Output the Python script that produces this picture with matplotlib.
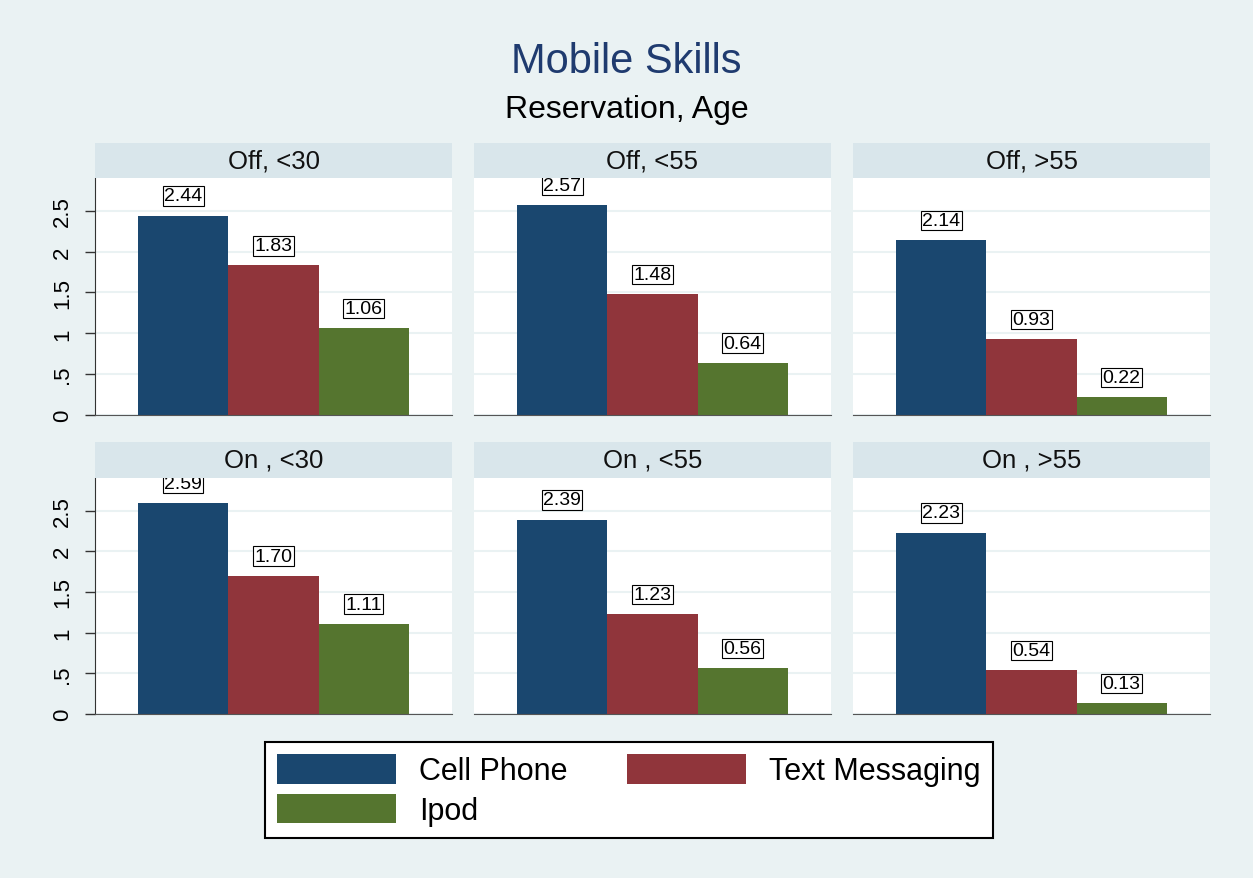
import matplotlib.pyplot as plt
from matplotlib.patches import Patch

plt.rcParams['font.family'] = ['Liberation Sans', 'DejaVu Sans']

panels = ["Off, <30", "Off, <55", "Off, >55", "On , <30", "On , <55", "On , >55"]
cell_phone = [2.44, 2.57, 2.14, 2.59, 2.39, 2.23]
text_msg = [1.83, 1.48, 0.93, 1.70, 1.23, 0.54]
ipod = [1.06, 0.64, 0.22, 1.11, 0.56, 0.13]
series_names = ["Cell Phone", "Text Messaging", "Ipod"]
colors = ["#1A476F", "#90353B", "#55752F"]
yticks = [0, 0.5, 1, 1.5, 2, 2.5]
ytick_labels = ["0", ".5", "1", "1.5", "2", "2.5"]

W, H = 1253, 879
bg = "#EAF2F3"
fig = plt.figure(figsize=(W / 100, H / 100), dpi=100, facecolor=bg)

col_left = [95, 474, 853]
pw = 357
rows = [(179, 416, 144), (479, 715, 443)]  # axes top, axes bottom, strip top

for i, name in enumerate(panels):
    r, c = divmod(i, 3)
    top, bot, stop = rows[r]
    x0 = col_left[c]
    ax = fig.add_axes([x0 / W, 1 - bot / H, pw / W, (bot - top) / H])
    sax = fig.add_axes([x0 / W, 1 - top / H, pw / W, (top - stop) / H])
    sax.set_facecolor("#D9E6EB")
    sax.set_xticks([]); sax.set_yticks([])
    for s in sax.spines.values():
        s.set_visible(False)
    sax.text(0.5, 0.5, name, ha="center", va="center", fontsize=18.5, color="#111111")

    vals = [cell_phone[i], text_msg[i], ipod[i]]
    ax.bar([0, 1, 2], vals, width=1.0, color=colors, zorder=2)
    for xv, v in zip([0, 1, 2], vals):
        ax.annotate(f"{v:.2f}", (xv, v), xytext=(0, 8), textcoords="offset points",
                    ha="center", va="bottom", fontsize=14, clip_on=True, zorder=3,
                    bbox=dict(boxstyle="square,pad=0.06", fc="white", ec="black", lw=0.8))
    ax.set_xlim(-0.98, 2.98)
    ax.set_ylim(0, 2.9)
    ax.set_yticks(yticks)
    ax.yaxis.grid(True, color=bg, lw=1.5, zorder=1)
    ax.set_xticks([])
    ax.spines["top"].set_visible(False)
    ax.spines["right"].set_visible(False)
    ax.spines["bottom"].set_color("#555555")
    if c == 0:
        ax.spines["left"].set_color("#333333")
        ax.set_yticklabels(ytick_labels, rotation=90, va="center", fontsize=16)
        ax.tick_params(axis="y", length=7, width=1, color="#333333", pad=9)
    else:
        ax.spines["left"].set_visible(False)
        ax.tick_params(axis="y", length=0, labelleft=False)

fig.text(0.5, 1 - 62 / H, "Mobile Skills", ha="center", va="center", fontsize=30, color="#1F3B6F")
fig.text(0.5, 1 - 110 / H, "Reservation, Age", ha="center", va="center", fontsize=23, color="black")

# legend fills row by row: Cell Phone, Text Messaging / Ipod
order = [0, 2, 1]
handles = [Patch(facecolor=colors[k], edgecolor="none") for k in order]
labels = [series_names[k] for k in order]
leg = fig.legend(handles, labels, loc="upper left", mode="expand",
                 bbox_to_anchor=(265 / W, 1 - 840 / H, 728 / W, 97 / H),
                 ncol=2, fontsize=22, frameon=True, fancybox=False, edgecolor="black",
                 facecolor="white", framealpha=1,
                 handlelength=3.9, handleheight=1.1, handletextpad=0.75, columnspacing=2.0,
                 labelspacing=0.25, borderpad=0.4, borderaxespad=0)
leg.get_frame().set_linewidth(1.5)

fig.savefig("out.png", dpi=100, facecolor=bg)
